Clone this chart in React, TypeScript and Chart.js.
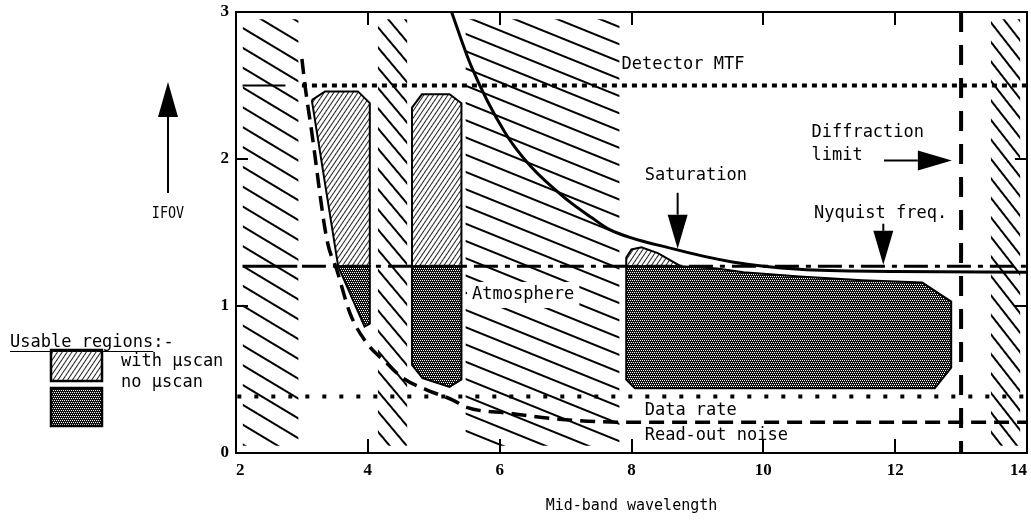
import React, { useEffect, useRef } from 'react';
import { Chart, registerables } from 'chart.js';

Chart.register(...registerables);

// ---------- data ----------
const xTickValues = [2, 4, 6, 8, 10, 12, 14];
const yTickValues = [0, 1, 2, 3];

// atmospheric absorption bands (hatched), wavelength ranges
const bandStart = [2.1, 4.15, 5.48, 13.45];
const bandEnd = [2.95, 4.6, 7.82, 13.9];
const bandTop = 2.95;
const bandBottom = 0.05;

// horizontal limits (IFOV)
const detectorMTF = 2.5;
const nyquistLevel = 1.27;
const dataRateLevel = 0.385;
// vertical limit (wavelength)
const diffractionLimit = 13;

// saturation curve
const saturationX = [5.27, 5.57, 6.08, 6.47, 7.03, 7.4, 7.67, 8.62, 9.53, 10.55, 12, 14];
const saturationY = [3.0, 2.63, 2.18, 1.95, 1.72, 1.6, 1.52, 1.39, 1.3, 1.25, 1.235, 1.23];

// read-out noise curve
const readoutX = [3.0, 3.05, 3.15, 3.38, 3.53, 3.73, 3.98, 4.29, 4.53, 4.89, 5.29, 5.5, 6.15, 6.9, 7.82, 14];
const readoutY = [2.68, 2.49, 2.18, 1.45, 1.245, 0.95, 0.75, 0.61, 0.51, 0.43, 0.36, 0.31, 0.27, 0.23, 0.21, 0.21];

// usable regions: [wavelength, IFOV]
const regionAWithScan: [number, number][] = [
  [3.15, 2.4], [3.35, 2.46], [3.85, 2.46], [4.03, 2.38], [4.03, 1.27], [3.55, 1.27], [3.15, 2.4],
];
const regionANoScan: [number, number][] = [
  [3.55, 1.27], [4.03, 1.27], [4.03, 0.88], [3.95, 0.86], [3.55, 1.27],
];
const regionBWithScan: [number, number][] = [
  [4.67, 1.27], [4.67, 2.35], [4.82, 2.44], [5.24, 2.44], [5.42, 2.38], [5.42, 1.27], [4.67, 1.27],
];
const regionBNoScan: [number, number][] = [
  [4.67, 1.27], [5.42, 1.27], [5.42, 0.5], [5.24, 0.45], [4.83, 0.51], [4.67, 0.6], [4.67, 1.27],
];
const regionCWithScan: [number, number][] = [
  [7.92, 1.27], [7.92, 1.33], [8.0, 1.385], [8.15, 1.4], [8.4, 1.36], [8.75, 1.27], [7.92, 1.27],
];
const regionCNoScan: [number, number][] = [
  [7.92, 1.27], [8.75, 1.27], [9.3, 1.255], [9.7, 1.23], [10.55, 1.2], [11.5, 1.175], [12.41, 1.16], [12.85, 1.03],
  [12.85, 0.58], [12.6, 0.44], [8.05, 0.44], [7.92, 0.5], [7.92, 1.27],
];

// text labels inside the plot
const labelTexts = ['Detector MTF', 'Diffraction', 'limit', 'Saturation', 'Nyquist freq.', 'Atmosphere', 'Data rate', 'Read-out noise'];
const labelX = [7.85, 10.73, 10.73, 8.2, 10.77, 5.58, 8.2, 8.2];
const labelY = [2.64, 2.18, 2.02, 1.89, 1.63, 1.075, 0.29, 0.12];

// arrows: from -> to (data coords)
const arrowFromX = [8.7, 11.82, 11.83];
const arrowFromY = [1.77, 1.56, 1.99];
const arrowToX = [8.7, 11.82, 12.86];
const arrowToY = [1.39, 1.28, 1.99];

// ---------- styles ----------
const MONO = '"DejaVu Sans Mono", monospace';
const bandAngles = [31, 50, 22, 52];
const bandSpacing = [17, 13, 16, 12];

function makeStripe(ctx: CanvasRenderingContext2D, angleDeg: number, spacing: number, width: number, color = '#000'): CanvasPattern {
  const c = document.createElement('canvas');
  c.width = 16;
  c.height = spacing;
  const g = c.getContext('2d')!;
  g.fillStyle = color;
  g.fillRect(0, 0, 16, width);
  const p = ctx.createPattern(c, 'repeat')!;
  p.setTransform(new DOMMatrix().rotate(angleDeg));
  return p;
}

function makeChecker(ctx: CanvasRenderingContext2D): CanvasPattern {
  const c = document.createElement('canvas');
  c.width = 4;
  c.height = 4;
  const g = c.getContext('2d')!;
  g.fillStyle = '#111';
  g.fillRect(0, 0, 4, 4);
  g.fillStyle = '#fff';
  g.fillRect(0, 0, 1, 1);
  g.fillRect(2, 0, 1, 1);
  g.fillRect(1, 2, 1, 1);
  g.fillRect(3, 2, 1, 1);
  return ctx.createPattern(c, 'repeat')!;
}

function arrow(ctx: CanvasRenderingContext2D, x0: number, y0: number, x1: number, y1: number, headLen = 34, headW = 20) {
  const dx = x1 - x0;
  const dy = y1 - y0;
  const len = Math.hypot(dx, dy);
  const ux = dx / len;
  const uy = dy / len;
  const bx = x1 - ux * headLen;
  const by = y1 - uy * headLen;
  ctx.beginPath();
  ctx.moveTo(x0, y0);
  ctx.lineTo(bx, by);
  ctx.lineWidth = 2;
  ctx.stroke();
  ctx.beginPath();
  ctx.moveTo(x1, y1);
  ctx.lineTo(bx - uy * headW / 2, by + ux * headW / 2);
  ctx.lineTo(bx + uy * headW / 2, by - ux * headW / 2);
  ctx.closePath();
  ctx.fill();
}

function seg(ctx: CanvasRenderingContext2D, x0: number, y0: number, x1: number, y1: number) {
  ctx.beginPath();
  ctx.moveTo(x0, y0);
  ctx.lineTo(x1, y1);
  ctx.stroke();
}

const pts = (xs: number[], ys: number[]) => xs.map((x, i) => ({ x, y: ys[i] }));
const poly = (p: [number, number][]) => p.map(([x, y]) => ({ x, y }));

export default function App() {
  const ref = useRef<HTMLCanvasElement>(null);

  useEffect(() => {
    const canvas = ref.current!;
    const ctx = canvas.getContext('2d')!;
    const fineHatch = makeStripe(ctx, -56, 4, 1, '#222');
    const checker = makeChecker(ctx);

    const overlay = {
      id: 'overlay',
      afterDatasetsDraw(chart: any) {
        const c: CanvasRenderingContext2D = chart.ctx;
        const a = chart.chartArea;
        const xs = chart.scales.x;
        const ys = chart.scales.y;
        c.save();
        c.strokeStyle = '#000';
        c.fillStyle = '#000';
        c.lineWidth = 2;
        c.strokeRect(a.left, a.top, a.right - a.left, a.bottom - a.top);
        xTickValues.slice(1, -1).forEach((v) => {
          const px = Math.round(xs.getPixelForValue(v));
          seg(c, px, a.top, px, a.top + 13);
          seg(c, px, a.bottom, px, a.bottom - 14);
        });
        yTickValues.slice(1, -1).forEach((v) => {
          const py = Math.round(ys.getPixelForValue(v));
          seg(c, a.left, py, a.left + 12, py);
          seg(c, a.right, py, a.right - 12, py);
        });
        // labels
        c.font = `17px ${MONO}`;
        c.textBaseline = 'middle';
        c.textAlign = 'left';
        labelTexts.forEach((t, i) => {
          const px = xs.getPixelForValue(labelX[i]);
          const py = ys.getPixelForValue(labelY[i]);
          if (t === 'Atmosphere') {
            const w = c.measureText(t).width;
            c.fillStyle = '#fff';
            c.fillRect(px - 5, py - 13, w + 10, 26);
            c.fillStyle = '#000';
          }
          c.fillText(t, px, py);
        });
        arrowFromX.forEach((_, i) => {
          arrow(c, xs.getPixelForValue(arrowFromX[i]), ys.getPixelForValue(arrowFromY[i]),
            xs.getPixelForValue(arrowToX[i]), ys.getPixelForValue(arrowToY[i]));
        });
        c.restore();
      },
      afterDraw(chart: any) {
        const c: CanvasRenderingContext2D = chart.ctx;
        c.save();
        c.fillStyle = '#000';
        c.strokeStyle = '#000';
        // IFOV arrow and label
        arrow(c, 168, 193, 168, 82, 35, 20);
        c.save();
        c.translate(168, 214);
        c.scale(0.84, 1);
        c.font = `16px ${MONO}`;
        c.textAlign = 'center';
        c.textBaseline = 'middle';
        c.fillText('IFOV', 0, 0);
        c.restore();
        // legend
        c.font = `17px ${MONO}`;
        c.textAlign = 'left';
        c.textBaseline = 'alphabetic';
        c.fillText('Usable regions:-', 10, 347);
        const uw = c.measureText('Usable regions').width;
        c.lineWidth = 1;
        seg(c, 10, 351.5, 10 + uw, 351.5);
        c.lineWidth = 2.5;
        c.fillStyle = fineHatch;
        c.fillRect(51, 350, 51, 31);
        c.strokeRect(51, 350, 51, 31);
        c.fillStyle = checker;
        c.fillRect(51, 388, 51, 38);
        c.strokeRect(51, 388, 51, 38);
        c.fillStyle = '#000';
        c.textBaseline = 'middle';
        c.fillText('with \u00b5scan', 121, 362);
        c.fillText('no \u00b5scan', 121, 383);
        c.restore();
      },
    };

    const bandSets = bandStart.map((s, i) => ({
      data: [{ x: s, y: bandTop }, { x: bandEnd[i], y: bandTop }],
      fill: { value: bandBottom },
      backgroundColor: makeStripe(ctx, bandAngles[i], bandSpacing[i], 2),
      borderColor: 'transparent',
      borderWidth: 0,
      pointRadius: 0,
      order: 20,
    }));

    const regionSet = (p: [number, number][], bg: CanvasPattern) => ({
      data: poly(p),
      fill: 'shape',
      backgroundColor: bg,
      borderColor: '#000',
      borderWidth: 2,
      pointRadius: 0,
      tension: 0,
      order: 10,
    });

    const lineSet = (data: any[], width: number, dash: number[], extra: any = {}) => ({
      data,
      fill: false,
      borderColor: '#000',
      borderWidth: width,
      borderDash: dash,
      pointRadius: 0,
      tension: 0,
      order: 1,
      ...extra,
    });

    const tickFont = { family: '"Liberation Serif", serif', size: 17, weight: 'bold' };

    const chart = new Chart(canvas, {
      type: 'line',
      data: {
        datasets: [
          ...bandSets,
          regionSet(regionAWithScan, fineHatch),
          regionSet(regionANoScan, checker),
          regionSet(regionBWithScan, fineHatch),
          regionSet(regionBNoScan, checker),
          regionSet(regionCWithScan, fineHatch),
          regionSet(regionCNoScan, checker),
          lineSet([{ x: 2.1, y: detectorMTF }, { x: 2.75, y: detectorMTF }], 2, []),
          lineSet([{ x: 3.0, y: detectorMTF }, { x: 14, y: detectorMTF }], 4, [5, 5]),
          lineSet([{ x: 2.1, y: nyquistLevel }, { x: 2.93, y: nyquistLevel }], 3, []),
          lineSet([{ x: 3.0, y: nyquistLevel }, { x: 14, y: nyquistLevel }], 3, [24, 7, 5, 7]),
          lineSet([{ x: 2.02, y: dataRateLevel }, { x: 14, y: dataRateLevel }], 4, [4, 13]),
          lineSet([{ x: diffractionLimit, y: 3 }, { x: diffractionLimit, y: 0 }], 4, [20, 13]),
          lineSet(pts(saturationX, saturationY), 3, [], { cubicInterpolationMode: 'monotone' }),
          lineSet(pts(readoutX, readoutY), 3.5, [15, 8], { cubicInterpolationMode: 'monotone' }),
        ] as any,
      },
      options: {
        animation: false,
        responsive: true,
        maintainAspectRatio: false,
        layout: { padding: { top: 12, right: 4, left: 0, bottom: 0 } },
        plugins: { legend: { display: false }, tooltip: { enabled: false } },
        scales: {
          x: {
            type: 'linear',
            min: 2,
            max: 14,
            afterFit: (s: any) => {
              s.height = 67;
              s.paddingLeft = 0;
              s.paddingRight = 0;
            },
            afterBuildTicks: (s: any) => {
              s.ticks = xTickValues.map((v) => ({ value: v }));
            },
            grid: { display: false, drawTicks: false },
            border: { display: false },
            ticks: {
              padding: 7,
              color: '#000',
              maxRotation: 0,
              align: 'inner',
              font: tickFont,
            },
            title: {
              display: true,
              text: 'Mid-band wavelength',
              color: '#000',
              font: { family: MONO, size: 15 },
              padding: { top: 0, bottom: 5 },
            },
          },
          y: {
            type: 'linear',
            min: 0,
            max: 3,
            afterFit: (s: any) => {
              s.width = 236;
              s.paddingTop = 0;
              s.paddingBottom = 0;
            },
            afterBuildTicks: (s: any) => {
              s.ticks = yTickValues.map((v) => ({ value: v }));
            },
            grid: { display: false, drawTicks: false },
            border: { display: false },
            ticks: {
              padding: 7,
              color: '#000',
              font: tickFont,
            },
          },
        },
      },
      plugins: [overlay],
    } as any);

    return () => chart.destroy();
  }, []);

  return (
    <div style={{ position: 'absolute', left: 0, top: 0, width: 1031, height: 520, background: '#fff' }}>
      <canvas ref={ref} />
    </div>
  );
}
